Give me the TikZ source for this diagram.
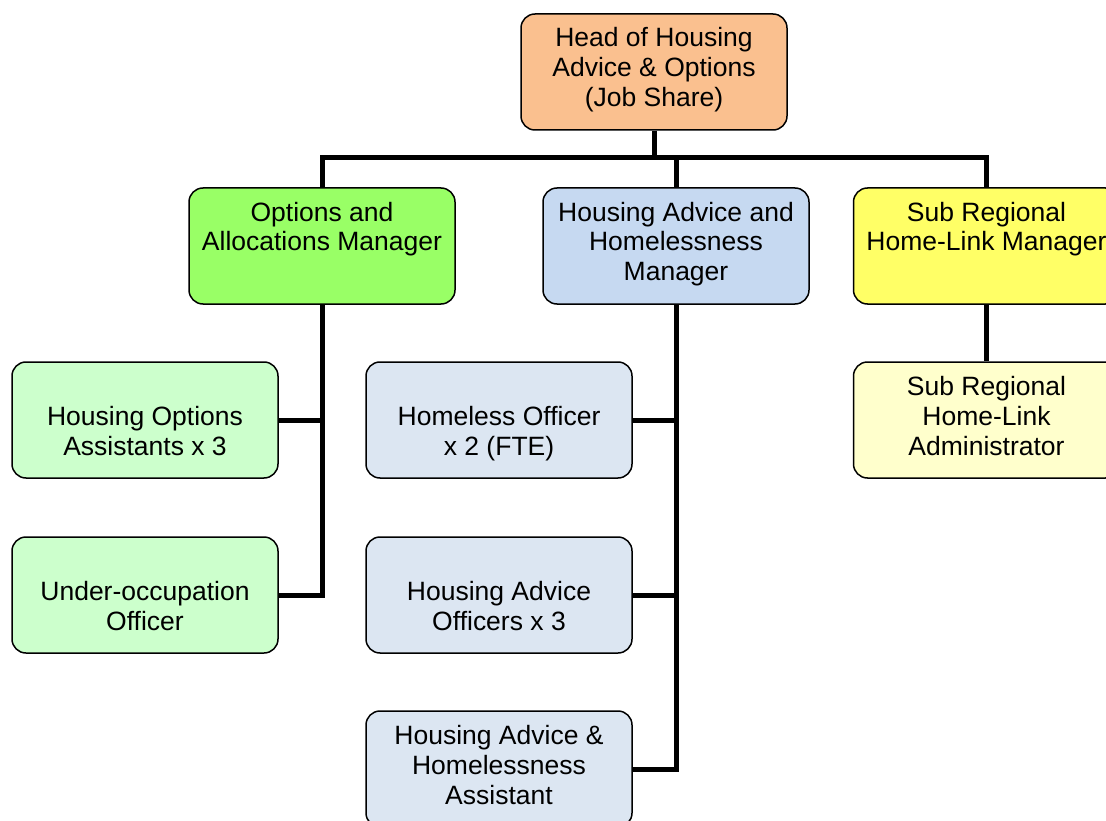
\documentclass[tikz,border=0pt]{standalone}
\usepackage{fontspec}
\setmainfont{Liberation Sans}

\definecolor{headfill}{RGB}{250,192,143}
\definecolor{optfill}{RGB}{153,255,102}
\definecolor{advfill}{RGB}{198,217,241}
\definecolor{linkfill}{RGB}{255,255,102}
\definecolor{optstaff}{RGB}{204,255,204}
\definecolor{advstaff}{RGB}{220,230,242}
\definecolor{linkstaff}{RGB}{255,255,204}

% text block of a post, set from the top of the box
\newcommand{\posttext}[1]{\parbox[c][92pt][t]{250pt}{\centering\strut #1}}

\begin{document}
\begin{tikzpicture}[x=1pt,y=1pt,line join=miter]
    \tikzstyle{post}=[draw,line width=1.5pt,rounded corners=14pt,inner xsep=8pt,inner ysep=12pt,font=\fontsize{26.5}{30}\selectfont]
    \tikzstyle{link}=[line width=5pt]

    \useasboundingbox (0,0) rectangle (1106,-821);

    % head of service
    \node[post,fill=headfill] (head) at (654,-72) {\posttext{Head of Housing\\Advice \& Options\\(Job Share)}};

    % managers
    \node[post,fill=optfill] (optmgr) at (322,-246) {\posttext{Options and\\Allocations Manager}};
    \node[post,fill=advfill] (advmgr) at (676,-246) {\posttext{Housing Advice and\\Homelessness\\Manager}};
    \node[post,fill=linkfill] (linkmgr) at (986.5,-246) {\posttext{Sub Regional\\Home-Link Manager}};

    % options team
    \node[post,fill=optstaff] (optasst) at (145,-420) {\posttext{\\Housing Options\\Assistants x 3}};
    \node[post,fill=optstaff] (underocc) at (145,-595) {\posttext{\\Under-occupation\\Officer}};

    % advice team
    \node[post,fill=advstaff] (homeoff) at (499,-420) {\posttext{\\Homeless Officer\\x 2 (FTE)}};
    \node[post,fill=advstaff] (advoff) at (499,-595) {\posttext{\\Housing Advice\\Officers x 3}};
    \node[post,fill=advstaff] (advasst) at (499,-769) {\posttext{Housing Advice \&\\Homelessness\\Assistant}};

    % home-link team
    \node[post,fill=linkstaff] (linkadm) at (986.5,-420) {\posttext{Sub Regional\\Home-Link\\Administrator}};

    % head down to the managers
    \coordinate (hub) at (654,-158);
    \draw[link] (head) -- (hub);
    \draw[link] (optmgr) |- (hub) -| (linkmgr);
    \draw[link] (advmgr) -- (advmgr |- hub);

    % managers down to their teams
    \foreach \dst in {optasst,underocc}
    \draw[link] (optmgr) |- (\dst);
    \foreach \dst in {homeoff,advoff,advasst}
    \draw[link] (advmgr) |- (\dst);
    \draw[link] (linkmgr) -- (linkadm);
\end{tikzpicture}
\end{document}
